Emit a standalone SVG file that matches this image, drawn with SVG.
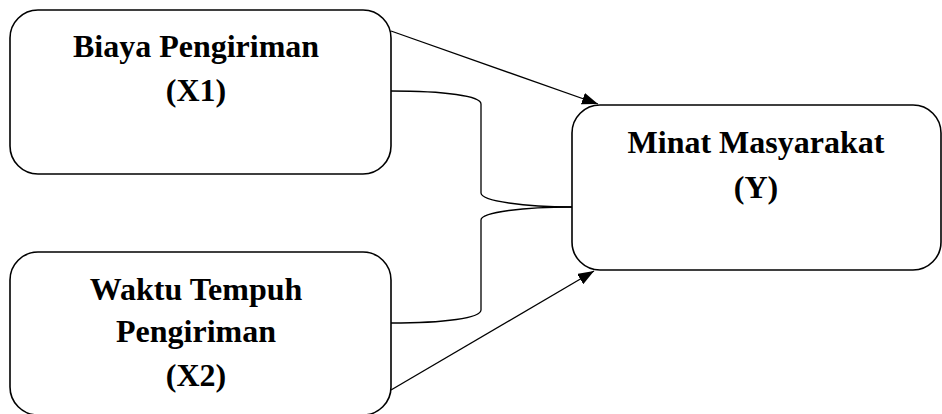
<svg xmlns="http://www.w3.org/2000/svg" width="942" height="414" viewBox="0 0 942 414">
<style>
.box{fill:#fff;stroke:#000;stroke-width:1.6}
.t{font-family:"Liberation Serif","Times New Roman",serif;font-weight:bold;font-size:32px;text-anchor:middle;fill:#000}
.c{fill:none;stroke:#000;stroke-width:1.3}
</style>
<defs>
<marker id="ah" viewBox="0 0 16 12" refX="16" refY="6" markerWidth="16" markerHeight="12" markerUnits="userSpaceOnUse" orient="auto">
<path d="M0,0 L16,6 L0,12 Z" fill="#000"/>
</marker>
</defs>
<rect width="942" height="414" fill="#fff"/>
<g id="x1">
<rect class="box" x="10" y="10" width="381" height="164" rx="28" ry="28"/>
<text class="t" x="196" y="57">Biaya Pengiriman</text>
<text class="t" x="196" y="101">(X1)</text>
</g>
<g id="x2">
<rect class="box" x="10" y="252" width="381" height="163" rx="28" ry="28"/>
<text class="t" x="196" y="300">Waktu Tempuh</text>
<text class="t" x="196" y="342">Pengiriman</text>
<text class="t" x="196" y="386">(X2)</text>
</g>
<g id="y">
<rect class="box" x="572" y="105" width="369" height="165" rx="28" ry="28"/>
<text class="t" x="756" y="153">Minat Masyarakat</text>
<text class="t" x="756" y="198">(Y)</text>
</g>
<g id="connectors">
<line class="c" x1="391" y1="31" x2="598" y2="104" marker-end="url(#ah)"/>
<line class="c" x1="391" y1="390" x2="594" y2="271" marker-end="url(#ah)"/>
<path class="c" d="M391,91 C445,91 481,96 481,104 V193 C481,201 525,207 572,207"/>
<path class="c" d="M572,207 C525,207 481,212 481,220 V310 C481,318 445,323 391,323"/>
</g>
</svg>
